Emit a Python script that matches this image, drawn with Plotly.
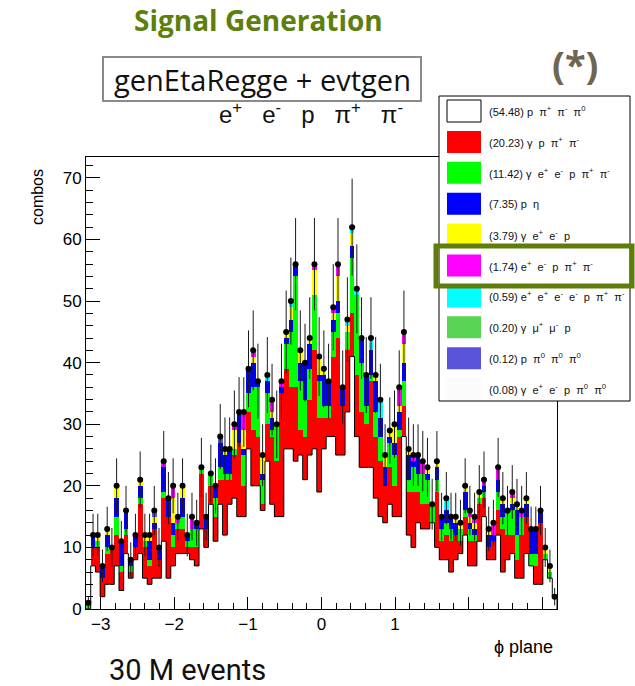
import numpy as np
import plotly.graph_objects as go

# ---------------- data ----------------
n_bins = 100
x_lo, x_hi = -3.2, 3.2

# bottom -> top stack components, counts per bin
white = [0,7,6,2,4,4,7,3,9,5, 8,9,5,4,5,5,11,5,7,9, 9,9,8,7,13,10,17,11,17,12,
         17,18,15,15,26,20,20,16,24,17, 15,15,26,26,24,25,21,25,26,19, 26,28,28,25,25,32,41,28,23,23,
         23,18,15,14,17,15,15,28,12,10, 14,13,13,14,10,8,8,6,8,9, 12,7,7,11,15,8,8,12,6,8,
         9,5,5,9,7,4,4,8,5,2]
red = [0,3,4,3,5,6,5,3,3,1, 2,8,5,3,8,3,7,10,3,4, 4,1,2,3,9,3,3,4,4,9,
       4,7,12,5,6,9,8,1,6,11, 9,20,13,10,12,4,7,9,16,12, 5,3,13,19,8,10,7,10,9,7,
       14,10,9,6,6,5,13,5,7,9, 5,4,4,0,9,3,4,5,4,2, 3,4,4,6,3,2,3,4,7,4,
       3,3,7,6,0,3,10,0,0,0]
green = [1,0,1,0,1,0,3,1,1,1, 0,1,1,1,0,0,1,0,2,1, 2,1,3,3,1,0,2,3,2,1,
         1,1,0,5,3,7,8,4,5,1, 6,0,4,9,18,8,6,5,9,6, 2,2,4,4,0,3,9,13,8,3,
         1,4,4,0,4,5,1,4,2,4, 3,5,4,3,2,2,2,2,0,2, 1,2,1,1,1,0,0,3,2,4,
         4,4,3,0,2,2,0,1,1,0]
blue = [0,2,0,2,2,0,3,4,3,1, 2,2,0,3,1,2,4,3,2,0, 3,1,0,1,0,2,0,2,4,3,
        4,0,5,1,4,4,1,1,2,2, 0,1,1,2,2,3,6,4,0,1, 5,4,2,2,3,0,2,0,4,5,
        4,5,3,3,1,2,3,3,4,1, 3,0,1,0,2,2,2,2,2,0, 3,1,1,0,1,2,1,2,2,0,
        1,4,0,2,4,4,2,0,0,0]
yellow = [0,0,1,0,1,0,2,0,0,0, 0,1,1,1,1,0,0,0,4,0, 2,0,0,0,0,0,0,0,0,1,
          0,3,0,3,0,1,0,3,0,1, 0,0,1,2,0,2,0,1,4,3, 1,0,1,4,0,1,2,0,0,0,
          0,1,0,2,1,3,1,3,1,0, 0,0,1,0,1,0,0,0,1,1, 1,1,1,1,0,1,0,0,1,0,
          1,1,0,1,0,0,0,1,1,0]
magenta = [0,0,0,0,0,0,0,0,0,0, 0,0,0,0,0,0,1,0,2,1, 0,0,2,0,0,0,0,0,0,0,
           0,1,0,3,0,1,0,0,0,2, 0,1,0,0,0,0,0,0,1,0, 0,0,1,2,0,0,0,0,0,0,
           0,0,0,0,0,0,3,2,0,1, 0,2,0,0,0,0,0,0,0,0, 0,1,1,0,1,0,2,2,0,0,
           1,0,1,0,0,0,0,0,0,0]
cyan = [0]*38 + [1] + [0]*4 + [1] + [0]*11 + [1,1,1,0,0,2,0,3] + [0]*13 + [2] + [0]*23
lightgreen = [0]*100
slateblue = [0]*14 + [1] + [0]*13 + [1] + [0]*71
combos = [1,12,12,7,13,10,20,11,16,8, 12,21,12,12,16,10,24,18,20,15, 20,12,15,14,23,15,22,20,28,26,
          26,30,32,32,39,42,37,25,38,34, 30,37,45,50,56,42,40,44,56,41, 39,37,49,56,36,47,62,52,44,38,
          44,38,34,25,29,30,36,45,26,25, 25,24,23,17,24,15,18,15,15,14, 20,16,15,19,21,13,14,23,18,16,
          19,17,16,18,13,13,16,10,7,2]

x_tick_vals = [-3, -2, -1, 0, 1, 2, 3]
x_tick_text = ["\u22123", "\u22122", "\u22121", "0", "1", "", ""]
y_tick_vals = [0, 10, 20, 30, 40, 50, 60, 70]

legend_labels = [
    "(54.48) p\u00a0\u00a0\u03c0<sup>+</sup>\u00a0\u00a0\u03c0<sup>-</sup>\u00a0\u00a0\u03c0<sup>0</sup>",
    "(20.23) \u03b3\u00a0\u00a0p\u00a0\u00a0\u03c0<sup>+</sup>\u00a0\u00a0\u03c0<sup>-</sup>",
    "(11.42) \u03b3\u00a0\u00a0e<sup>+</sup>\u00a0\u00a0e<sup>-</sup>\u00a0\u00a0p\u00a0\u00a0\u03c0<sup>+</sup>\u00a0\u00a0\u03c0<sup>-</sup>",
    "(7.35) p\u00a0\u00a0\u03b7",
    "(3.79) \u03b3\u00a0\u00a0e<sup>+</sup>\u00a0\u00a0e<sup>-</sup>\u00a0\u00a0p",
    "(1.74) e<sup>+</sup>\u00a0\u00a0e<sup>-</sup>\u00a0\u00a0p\u00a0\u00a0\u03c0<sup>+</sup>\u00a0\u00a0\u03c0<sup>-</sup>",
    "(0.59) e<sup>+</sup>\u00a0\u00a0e<sup>+</sup>\u00a0\u00a0e<sup>-</sup>\u00a0\u00a0e<sup>-</sup>\u00a0\u00a0p\u00a0\u00a0\u03c0<sup>+</sup>\u00a0\u00a0\u03c0<sup>-</sup>",
    "(0.20) \u03b3\u00a0\u00a0\u03bc<sup>+</sup>\u00a0\u00a0\u03bc<sup>-</sup>\u00a0\u00a0p",
    "(0.12) p\u00a0\u00a0\u03c0<sup>0</sup>\u00a0\u00a0\u03c0<sup>0</sup>\u00a0\u00a0\u03c0<sup>0</sup>",
    "(0.08) \u03b3\u00a0\u00a0e<sup>+</sup>\u00a0\u00a0e<sup>-</sup>\u00a0\u00a0p\u00a0\u00a0\u03c0<sup>0</sup>\u00a0\u00a0\u03c0<sup>0</sup>",
]
legend_colors = ["#ffffff", "#ff0000", "#00ff00", "#0000ff", "#ffff00",
                 "#ff00ff", "#00ffff", "#59d454", "#5954d9", "#fbfbfb"]

# ---------------- figure ----------------
W, H = 635, 686
L, R, T, B = 86, 557, 157, 609

edges = np.linspace(x_lo, x_hi, n_bins + 1)
centers = 0.5 * (edges[:-1] + edges[1:])
bw = edges[1] - edges[0]

def px(xp):
    return (xp - L) / (R - L)

def py(yp):
    return (B - yp) / (B - T)

fig = go.Figure()
stack = [white, red, green, blue, yellow, magenta, cyan, lightgreen, slateblue]
for vals, col in zip(stack, legend_colors[:9]):
    fig.add_trace(go.Bar(x=centers, y=vals, width=bw, marker=dict(color=col, line=dict(width=0)),
                         showlegend=False, hoverinfo="skip"))

# outline of the bottom (white) histogram
step_x = list(edges)
step_y = list(white) + [white[-1]]
fig.add_trace(go.Scatter(x=[edges[0]] + step_x + [edges[-1]], y=[0] + step_y + [0],
                         mode="lines", line=dict(color="black", width=1, shape="hv"),
                         showlegend=False, hoverinfo="skip"))

err = np.sqrt(np.array(combos, dtype=float))
fig.add_trace(go.Scatter(x=centers, y=combos, mode="markers",
                         marker=dict(color="black", size=6),
                         error_y=dict(type="data", array=err, color="#1a1a1a", thickness=1, width=0),
                         showlegend=False, hoverinfo="skip"))

fig.update_layout(
    width=W, height=H, autosize=False,
    margin=dict(l=L, r=W - R, t=T, b=H - B, pad=0),
    paper_bgcolor="white", plot_bgcolor="white",
    barmode="stack", bargap=0,
    font=dict(family="Liberation Sans", color="black"),
)
fig.update_xaxes(range=[x_lo, x_hi], showgrid=False, zeroline=False,
                 showline=True, linecolor="black", linewidth=1, mirror=True,
                 tickvals=x_tick_vals, ticktext=x_tick_text, ticks="inside", ticklen=12,
                 tickcolor="black", tickfont=dict(size=17, family="Liberation Sans"),
                 minor=dict(dtick=0.2, ticks="inside", ticklen=6, tickcolor="black"))
fig.update_yaxes(range=[0, 73.4], showgrid=False, zeroline=False,
                 showline=True, linecolor="black", linewidth=1, mirror=True,
                 tickvals=y_tick_vals, ticks="inside", ticklen=14,
                 tickcolor="black", tickfont=dict(size=17, family="Liberation Sans"),
                 minor=dict(dtick=2, ticks="inside", ticklen=7, tickcolor="black"))

shapes = []
annotations = []

# legend box
lx0, lx1, ly0, ly1 = 439, 630, 96, 401
shapes.append(dict(type="rect", xref="paper", yref="paper", x0=px(lx0), x1=px(lx1), y0=py(ly1), y1=py(ly0),
                   line=dict(color="black", width=1), fillcolor="white", layer="above"))
for k, (lab, col) in enumerate(zip(legend_labels, legend_colors)):
    cy = 111 + k * 30.9
    border = "black" if k == 0 else col
    shapes.append(dict(type="rect", xref="paper", yref="paper", x0=px(447), x1=px(481),
                       y0=py(cy + 11), y1=py(cy - 11), line=dict(color=border, width=1 if k == 0 else 0),
                       fillcolor=col, layer="above"))
    annotations.append(dict(x=px(487), y=py(cy), text=lab, xanchor="left", yanchor="middle",
                            font=dict(size=11, family="Liberation Sans", color="#111")))

# highlight around (1.74) entry
shapes.append(dict(type="rect", xref="paper", yref="paper", x0=px(436), x1=px(632), y0=py(286), y1=py(246),
                   line=dict(color="#5f7d0a", width=5), fillcolor="rgba(0,0,0,0)", layer="above"))

# header box
shapes.append(dict(type="rect", xref="paper", yref="paper", x0=px(103), x1=px(421), y0=py(101), y1=py(57),
                   line=dict(color="#8a8a8a", width=2), fillcolor="white", layer="above"))

annotations += [
    dict(x=px(258), y=py(20), text="<b>Signal Generation</b>", font=dict(size=28, family="Open Sans", color="#5e7f0c")),
    dict(x=px(575), y=py(64), text="<b>(*)</b>", font=dict(size=38, family="Open Sans", color="#6d6650")),
    dict(x=px(262), y=py(79), text="genEtaRegge + evtgen", font=dict(size=29, family="Open Sans", color="#111")),
    dict(x=px(311), y=py(113),
         text="e<sup>+</sup>\u00a0\u00a0\u00a0e<sup>-</sup>\u00a0\u00a0\u00a0p\u00a0\u00a0\u00a0\u03c0<sup>+</sup>\u00a0\u00a0\u00a0\u03c0<sup>-</sup>",
         font=dict(size=24, family="Liberation Sans", color="#111")),
    dict(x=px(187), y=py(670), text="30 M events", font=dict(size=29, family="Roboto", color="#111")),
    dict(x=px(37), y=py(197), text="combos", textangle=-90, font=dict(size=16, family="Liberation Sans", color="black")),
    dict(x=px(555), y=py(647), text="\u03d5 plane", xanchor="right", font=dict(size=18, family="Liberation Sans", color="black")),
]
for a in annotations:
    a.setdefault("xref", "paper")
    a.setdefault("yref", "paper")
    a.setdefault("showarrow", False)
    a.setdefault("xanchor", "center")
    a.setdefault("yanchor", "middle")

fig.update_layout(shapes=shapes, annotations=annotations)
fig.write_html("out.html")
